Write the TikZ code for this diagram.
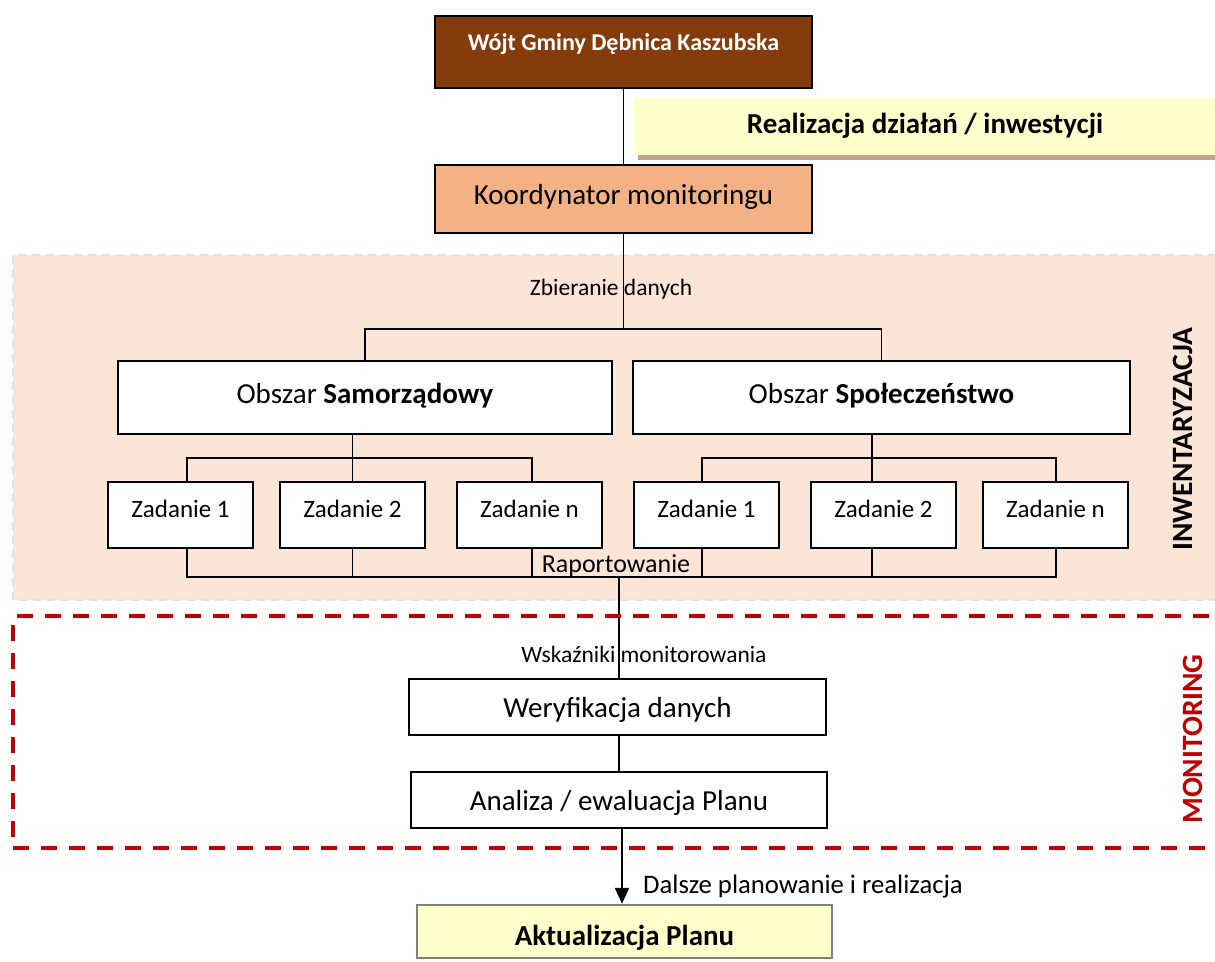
\documentclass[tikz,border=0pt]{standalone}
\usepackage{fontspec}
\setmainfont{Carlito}
\usetikzlibrary{arrows.meta}
\definecolor{wojtc}{HTML}{843C0C}
\definecolor{koordc}{HTML}{F4B183}
\definecolor{inwbg}{HTML}{FBE5D6}
\definecolor{yellowc}{HTML}{FFFFCC}
\definecolor{shadowc}{HTML}{C4A38C}
\definecolor{monred}{HTML}{C00000}
\definecolor{inwline}{HTML}{DAE3F3}
\definecolor{aktborder}{HTML}{808080}
\newcommand{\fsz}[1]{\fontsize{#1}{#1}\selectfont}
\begin{document}
\begin{tikzpicture}[x=1pt,y=-1pt,
  box/.style={draw=black, line width=2pt, fill=white, inner sep=0pt, text depth=10pt, font=\fsz{29}},
  zbox/.style={box, minimum width=145pt, minimum height=66pt, text height=14pt, font=\fsz{25}},
  conn/.style={line width=1.8pt, black},
  lbl/.style={inner sep=0pt, anchor=base, font=\fsz{23.5}},
  redline/.style={monred, line width=4pt, dash pattern=on 16pt off 12pt},
]
\fill[white] (0,0) rectangle (1215,961);
\useasboundingbox (0,0) rectangle (1215,961);

% background of inventory area
\fill[inwbg] (13,255) rectangle (1216,600);
\draw[inwline, line width=1.5pt, dash pattern=on 8pt off 6pt] (1216,255) -- (13,255) -- (13,600) -- (1216,600);

% top boxes
\node[box, fill=wojtc, minimum width=377pt, minimum height=72pt, text height=6pt, font=\fsz{24}\bfseries, text=white] (wojt) at (623.5,52) {Wójt Gminy Dębnica Kaszubska};
\fill[shadowc] (638,104) rectangle (1216,160);
\node[fill=yellowc, inner sep=0pt, minimum width=582pt, minimum height=57pt, text height=23pt, text depth=10pt, font=\fsz{29}\bfseries] (real) at (925,126.5) {Realizacja działań / inwestycji};
\node[box, fill=koordc, minimum width=377pt, minimum height=68pt, text height=20pt] (koord) at (623.5,199) {Koordynator monitoringu};

% areas
\node[box, minimum width=494pt, minimum height=73pt, text height=21pt] (samo) at (365,397.5) {Obszar \textbf{Samorządowy}};
\node[box, minimum width=497pt, minimum height=73pt, text height=21pt] (spol) at (881.5,397.5) {Obszar \textbf{Społeczeństwo}};

% tasks
\node[zbox] (lz1) at (180.5,515) {Zadanie 1};
\node[zbox] (lz2) at (352.5,515) {Zadanie 2};
\node[zbox] (lzn) at (529.5,515) {Zadanie n};
\node[zbox] (rz1) at (706.5,515) {Zadanie 1};
\node[zbox] (rz2) at (883.5,515) {Zadanie 2};
\node[zbox] (rzn) at (1055.5,515) {Zadanie n};

% monitoring boxes
\node[box, minimum width=417pt, minimum height=56pt, text height=30pt] (wer) at (617.5,707) {Weryfikacja danych};
\node[box, minimum width=416pt, minimum height=56pt, text height=30pt] (ana) at (619,800) {Analiza / ewaluacja Planu};
\node[box, draw=aktborder, line width=2.5pt, fill=yellowc, minimum width=415pt, minimum height=53pt, text height=37pt, font=\fsz{29}\bfseries] (akt) at (624.5,931.5) {Aktualizacja Planu};

% connector coordinates
\coordinate (br) at (623.5,329);
\coordinate (la) at (187,458);
\coordinate (lm) at (352.5,458);
\coordinate (lc) at (532,458);
\coordinate (ra) at (702,458);
\coordinate (rm) at (872,458);
\coordinate (rc) at (1056,458);
\coordinate (b1) at (187,577);
\coordinate (bt) at (619,577);
\coordinate (b6) at (1056,577);
\coordinate (ar) at (622,0);

% connectors
\draw[conn] (wojt.south) -- (koord.north);
\draw[conn] (koord.south) -- (br);
\draw[conn] (samo.north) |- (br) -| (spol.north);
\draw[conn] (lm |- samo.south) -- (lm |- lz2.north);
\draw[conn] (la |- lz1.north) -- (la) -- (lc) -- (lc |- lzn.north);
\draw[conn] (rm |- spol.south) -- (rm |- rz2.north);
\draw[conn] (ra |- rz1.north) -- (ra) -- (rc) -- (rc |- rzn.north);
\draw[conn] (b1 |- lz1.south) -- (b1) -- (b6) -- (b6 |- rzn.south);
\draw[conn] (lm |- lz2.south) -- (lm |- b1);
\draw[conn] (lc |- lzn.south) -- (lc |- b1);
\draw[conn] (ra |- rz1.south) -- (ra |- b1);
\draw[conn] (rm |- rz2.south) -- (rm |- b1);
\draw[conn] (bt) -- (bt |- wer.north);
\draw[conn] (bt |- wer.south) -- (bt |- ana.north);
\draw[line width=2.2pt, -{Triangle[length=16pt,width=14pt]}] (ar |- ana.south) -- (ar |- akt.north);

% labels
\node[lbl] (zb) at (611,295) {Zbieranie danych};
\node[lbl, font=\fsz{26}] (rap) at (616,572) {Raportowanie};
\node[lbl] (wsk) at (644,662) {Wskaźniki monitorowania};
\node[lbl, anchor=base west, font=\fsz{26.7}] (dal) at (643,893) {Dalsze planowanie i realizacja};

% monitoring frame
\draw[redline] (17,616) -- (1216,616);
\draw[redline] (13,625) -- (13,848);
\draw[redline] (13,848) -- (1216,848);

% side titles
\node[rotate=90, inner sep=0pt, font=\fsz{29.5}\bfseries] (inw) at (1183,439) {INWENTARYZACJA};
\node[rotate=90, inner sep=0pt, font=\fsz{29.5}\bfseries, text=monred] (mon) at (1193,739) {MONITORING};
\end{tikzpicture}
\end{document}
